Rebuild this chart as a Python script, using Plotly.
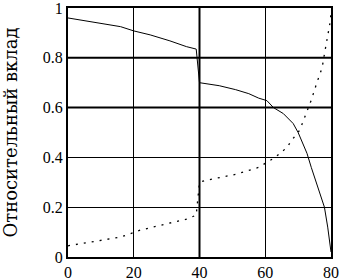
import plotly.graph_objects as go

# Solid curve
x_solid = [0, 5, 10, 16, 20, 25, 31, 36, 39, 40, 46, 51, 55, 58, 60.5, 62.5,
           65.5, 68.5, 70, 71, 72.7, 74, 76, 78, 79, 80]
y_solid = [0.960, 0.950, 0.940, 0.925, 0.908, 0.892, 0.868, 0.845, 0.835, 0.700,
           0.688, 0.672, 0.656, 0.638, 0.628, 0.600, 0.576, 0.536, 0.500, 0.470,
           0.416, 0.360, 0.280, 0.200, 0.120, 0.020]

# Dotted curve
x_dot = [0, 5, 12, 16, 22, 31, 36, 39, 40, 42, 46, 51, 53, 58, 60.5, 63, 66.6,
         68, 70.5, 72, 73, 74, 75.7, 76.7, 77.3, 78.2, 78.8, 79.1, 79.7, 80]
y_dot = [0.045, 0.055, 0.072, 0.080, 0.108, 0.136, 0.152, 0.168, 0.300, 0.308,
         0.318, 0.332, 0.340, 0.360, 0.380, 0.400, 0.440, 0.468, 0.510, 0.560,
         0.590, 0.630, 0.700, 0.735, 0.760, 0.830, 0.870, 0.900, 0.940, 0.980]

x_ticks = [0, 20, 40, 60, 80]
y_ticks = [0, 0.2, 0.4, 0.6, 0.8, 1]
y_tick_text = ["0", "0.2", "0.4", "0.6", "0.8", "1"]
thick_y = [0.6, 0.8]
thick_x = [40]
y_title = "Относительный вклад"

fig = go.Figure()
fig.add_trace(go.Scatter(x=x_solid, y=y_solid, mode="lines",
                         line=dict(color="black", width=1), showlegend=False))
fig.add_trace(go.Scatter(x=x_dot, y=y_dot, mode="lines",
                         line=dict(color="black", width=1.3, dash="2px,6px"),
                         showlegend=False))

for yv in thick_y:
    fig.add_shape(type="line", xref="paper", x0=0, x1=1, yref="y", y0=yv, y1=yv,
                  line=dict(color="black", width=2), layer="below")
for xv in thick_x:
    fig.add_shape(type="line", yref="paper", y0=0, y1=1, xref="x", x0=xv, x1=xv,
                  line=dict(color="black", width=2), layer="below")

tickfont = dict(family="Liberation Serif", size=16, color="black")
fig.update_layout(
    width=343, height=280,
    margin=dict(l=68, r=12, t=8, b=23),
    paper_bgcolor="white", plot_bgcolor="white",
    xaxis=dict(range=[0, 80], tickvals=x_ticks, showgrid=True, gridcolor="black",
               gridwidth=1, showline=True, linecolor="black", linewidth=2,
               mirror=True, ticks="", tickfont=tickfont, zeroline=False,
               fixedrange=True, ticklabeloverflow="allow", automargin=False),
    yaxis=dict(range=[0, 1], tickvals=y_ticks, ticktext=y_tick_text, showgrid=True,
               gridcolor="black", gridwidth=1, showline=True, linecolor="black",
               linewidth=2, mirror=True, ticks="", tickfont=tickfont,
               zeroline=False, fixedrange=True, ticklabeloverflow="allow",
               automargin=False,
               title=dict(text=y_title, standoff=26,
                          font=dict(family="DejaVu Serif", size=18, color="black"))),
)
fig.write_html("out.html", config={"displayModeBar": False},
               post_script="document.body.style.margin='0';document.body.style.overflow='hidden';")
